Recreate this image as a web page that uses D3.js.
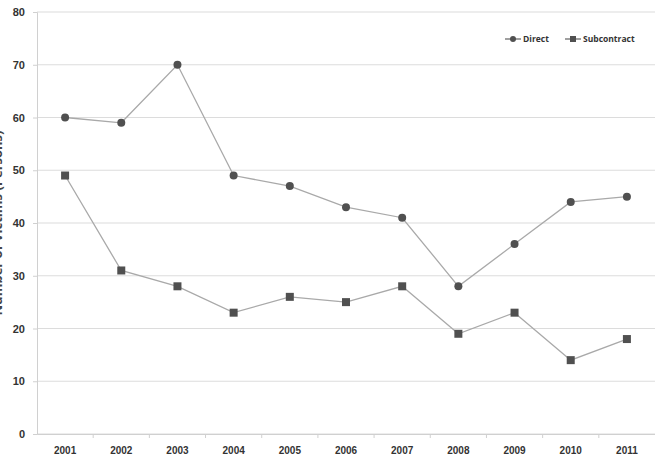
<!DOCTYPE html>
<html>
<head>
<meta charset="utf-8">
<script src="https://cdn.jsdelivr.net/npm/d3@7"></script>
<style>
  body { margin: 0; background: #fff; }
  svg { display: block; font-family: "Open Sans", "Liberation Sans", sans-serif; }
</style>
</head>
<body>
<div id="chart"></div>
<script>
const years = ["2001", "2002", "2003", "2004", "2005", "2006", "2007", "2008", "2009", "2010", "2011"];
const direct = [60, 59, 70, 49, 47, 43, 41, 28, 36, 44, 45];
const subcontract = [49, 31, 28, 23, 26, 25, 28, 19, 23, 14, 18];
const yTicks = [0, 10, 20, 30, 40, 50, 60, 70, 80];

const W = 655, H = 455;
const margin = { top: 12, right: 0, bottom: 21, left: 37 };
const width = W - margin.left - margin.right;
const height = H - margin.top - margin.bottom;

const svg = d3.select("#chart").append("svg")
  .attr("width", W)
  .attr("height", H);

const g = svg.append("g")
  .attr("transform", `translate(${margin.left},${margin.top})`);

const x = d3.scaleBand()
  .domain(years)
  .range([0, width]);

const y = d3.scaleLinear()
  .domain([0, 80])
  .range([height, 0]);

// gridlines
g.append("g")
  .selectAll("line")
  .data(yTicks)
  .enter()
  .append("line")
  .attr("x1", 0)
  .attr("x2", width)
  .attr("y1", d => y(d))
  .attr("y2", d => y(d))
  .attr("stroke", "#dcdcdc")
  .attr("stroke-width", 1.2);

// y axis
const yAxis = g.append("g")
  .call(d3.axisLeft(y).tickValues(yTicks).tickSize(4).tickPadding(8));
yAxis.select(".domain").attr("stroke", "#d0d0d0");
yAxis.selectAll(".tick line").attr("stroke", "#d0d0d0");
yAxis.selectAll("text")
  .style("font-size", "11px")
  .style("font-weight", "bold")
  .attr("fill", "#333");

// x axis
const xAxis = g.append("g")
  .attr("transform", `translate(0,${height})`)
  .call(d3.axisBottom(x).tickSize(0).tickPadding(13));
xAxis.select(".domain").attr("stroke", "#d0d0d0");
xAxis.selectAll("text")
  .style("font-size", "10px")
  .style("font-weight", "bold")
  .attr("fill", "#333");

// category separators
g.append("g")
  .selectAll("line")
  .data(years.slice(1))
  .enter()
  .append("line")
  .attr("x1", d => x(d))
  .attr("x2", d => x(d))
  .attr("y1", height)
  .attr("y2", height + 4)
  .attr("stroke", "#d0d0d0");

// y axis title, mostly past the left edge as in the original
svg.append("text")
  .attr("transform", "rotate(-90)")
  .attr("x", -223)
  .attr("y", 2)
  .attr("text-anchor", "middle")
  .style("font-size", "13px")
  .style("font-weight", "bold")
  .attr("fill", "#444")
  .text("Number of Victims (Persons)");

const cx = d => x(d) + x.bandwidth() / 2;
const line = d3.line()
  .x(d => cx(d.year))
  .y(d => y(d.value));

const directData = years.map((yr, i) => ({ year: yr, value: direct[i] }));
const subData = years.map((yr, i) => ({ year: yr, value: subcontract[i] }));

[directData, subData].forEach(data => {
  g.append("path")
    .datum(data)
    .attr("fill", "none")
    .attr("stroke", "#a9a9a9")
    .attr("stroke-width", 1.3)
    .attr("d", line);
});

g.append("g")
  .selectAll("circle")
  .data(directData)
  .enter()
  .append("circle")
  .attr("cx", d => cx(d.year))
  .attr("cy", d => y(d.value))
  .attr("r", 4)
  .attr("fill", "#505050");

g.append("g")
  .selectAll("rect")
  .data(subData)
  .enter()
  .append("rect")
  .attr("x", d => cx(d.year) - 4)
  .attr("y", d => y(d.value) - 4)
  .attr("width", 8)
  .attr("height", 8)
  .attr("fill", "#505050");

// legend
const legend = svg.append("g").attr("transform", "translate(505,39)");
const legendItems = [
  { label: "Direct", shape: "circle", dx: 0 },
  { label: "Subcontract", shape: "square", dx: 60 }
];
legendItems.forEach(item => {
  const li = legend.append("g").attr("transform", `translate(${item.dx},0)`);
  li.append("line")
    .attr("x1", 0).attr("x2", 16)
    .attr("stroke", "#606060")
    .attr("stroke-width", 1.2);
  if (item.shape === "circle") {
    li.append("circle").attr("cx", 8).attr("r", 3).attr("fill", "#505050");
  } else {
    li.append("rect").attr("x", 5).attr("y", -3).attr("width", 6).attr("height", 6).attr("fill", "#505050");
  }
  li.append("text")
    .attr("x", 18)
    .attr("dy", "0.35em")
    .style("font-size", "8.5px")
    .style("font-weight", "bold")
    .attr("fill", "#333")
    .text(item.label);
});
</script>
</body>
</html>
